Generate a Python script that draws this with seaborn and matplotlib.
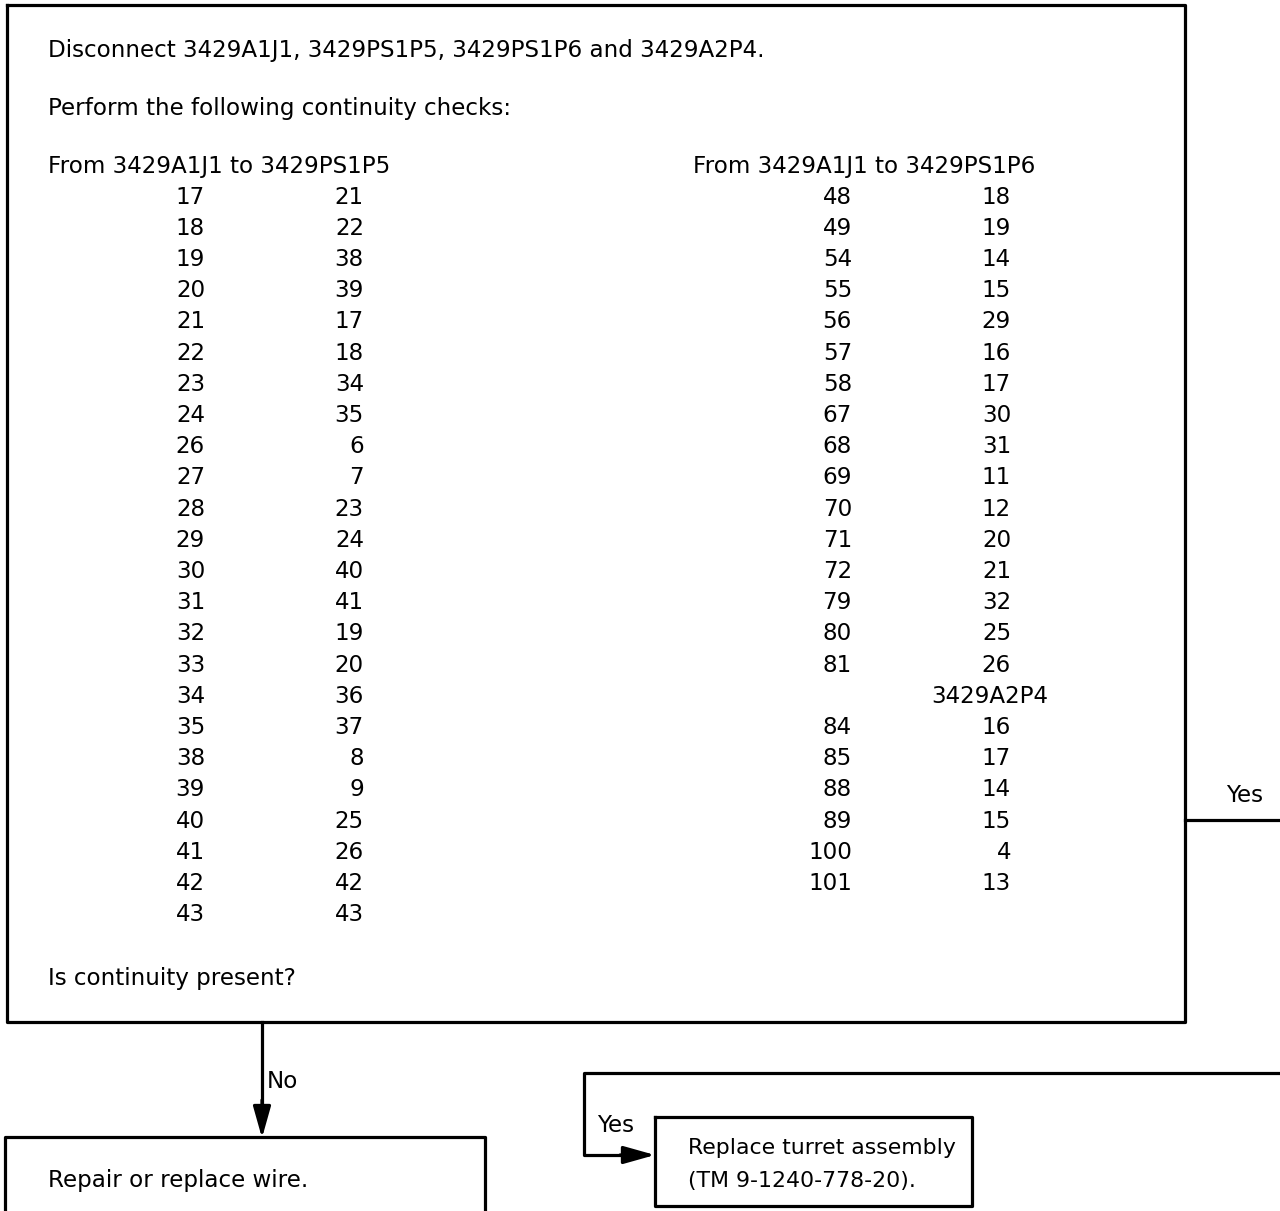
import matplotlib
matplotlib.use("Agg")
import matplotlib.pyplot as plt
import seaborn as sns

sns.set_theme(style="white")
plt.rcParams['font.family'] = ['DejaVu Sans']
plt.rcParams['text.color'] = 'black'

# ---- data ----
title_line = "Disconnect 3429A1J1, 3429PS1P5, 3429PS1P6 and 3429A2P4."
perform_line = "Perform the following continuity checks:"
left_header = "From 3429A1J1 to 3429PS1P5"
left_from = [17, 18, 19, 20, 21, 22, 23, 24, 26, 27, 28, 29, 30, 31, 32, 33, 34, 35, 38, 39, 40, 41, 42, 43]
left_to = [21, 22, 38, 39, 17, 18, 34, 35, 6, 7, 23, 24, 40, 41, 19, 20, 36, 37, 8, 9, 25, 26, 42, 43]
right_header = "From 3429A1J1 to 3429PS1P6"
right_from = [48, 49, 54, 55, 56, 57, 58, 67, 68, 69, 70, 71, 72, 79, 80, 81]
right_to = [18, 19, 14, 15, 29, 16, 17, 30, 31, 11, 12, 20, 21, 32, 25, 26]
sub_header = "3429A2P4"
sub_from = [84, 85, 88, 89, 100, 101]
sub_to = [16, 17, 14, 15, 4, 13]
question = "Is continuity present?"
yes_label = "Yes"
no_label = "No"
repair_text = "Repair or replace wire."
turret_lines = ["Replace turret assembly", "(TM 9-1240-778-20)."]

W, H = 1280, 1211
fig = plt.figure(figsize=(W / 100, H / 100), dpi=100)
ax = fig.add_axes([0, 0, 1, 1])
ax.set_xlim(0, W)
ax.set_ylim(H, 0)
ax.axis("off")

lw = 2.3
fs = 16.6
k = "black"

def txt(x, y, s, ha="left", size=fs):
    ax.text(x, y, s, fontsize=size, va="center", ha=ha, color=k)

def line(xs, ys):
    ax.plot(xs, ys, color=k, lw=lw, solid_capstyle="projecting")

# main box
line([7, 1185, 1185, 7, 7], [5, 5, 1022, 1022, 5])

txt(48, 51, title_line)
txt(48, 108, perform_line)
txt(48, 166, left_header)
txt(693, 166, right_header)

y0 = 197
dy = 31.2
for i, (a, b) in enumerate(zip(left_from, left_to)):
    y = y0 + i * dy
    txt(205, y, str(a), "right")
    txt(364, y, str(b), "right")

for i, (a, b) in enumerate(zip(right_from, right_to)):
    y = y0 + i * dy
    txt(852, y, str(a), "right")
    txt(1011, y, str(b), "right")

ysub = y0 + len(right_from) * dy
txt(990, ysub, sub_header, "center")
for i, (a, b) in enumerate(zip(sub_from, sub_to)):
    y = ysub + (i + 1) * dy
    txt(852, y, str(a), "right")
    txt(1011, y, str(b), "right")

txt(48, 978, question)

# Yes exit on right
line([1185, 1282], [820, 820])
txt(1245, 796, yes_label, "center")

# No arrow
line([262, 262], [1022, 1110])
ax.annotate("", xy=(262, 1138), xytext=(262, 1100),
            arrowprops=dict(arrowstyle="-|>,head_length=1.6,head_width=0.45",
                            color=k, lw=lw, shrinkA=0, shrinkB=0))
txt(267, 1082, no_label)

# Repair box (cut at bottom)
line([5, 5, 485, 485], [1215, 1137, 1137, 1215])
txt(48, 1180, repair_text)

# loop Yes line
line([1282, 584, 584, 630], [1073, 1073, 1155, 1155])
ax.annotate("", xy=(655, 1155), xytext=(620, 1155),
            arrowprops=dict(arrowstyle="-|>,head_length=1.6,head_width=0.45",
                            color=k, lw=lw, shrinkA=0, shrinkB=0))
txt(597, 1125, yes_label)

# turret box
line([655, 972, 972, 655, 655], [1117, 1117, 1206, 1206, 1117])
txt(688, 1148, turret_lines[0], size=15.8)
txt(688, 1181, turret_lines[1], size=15.8)

fig.savefig("out.png", dpi=100, facecolor="white")
